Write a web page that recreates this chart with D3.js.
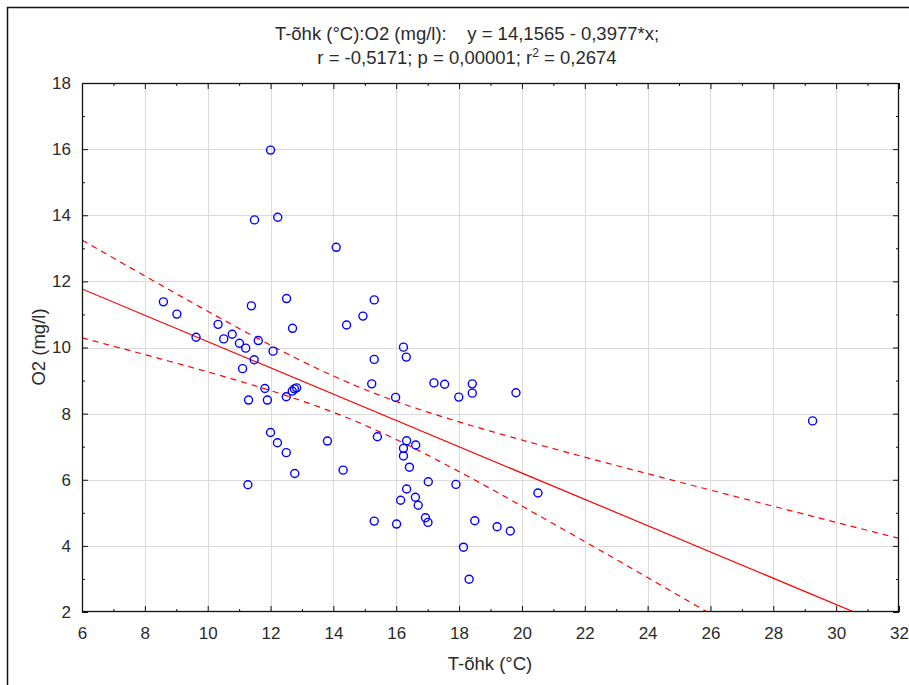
<!DOCTYPE html>
<html>
<head>
<meta charset="utf-8">
<script src="https://cdn.jsdelivr.net/npm/d3@7/dist/d3.min.js"></script>
<style>
  html, body { margin: 0; padding: 0; background: #fff; }
  svg { display: block; font-family: "Liberation Sans", Arial, sans-serif; }
</style>
</head>
<body>
<svg id="chart" width="909" height="685"></svg>
<script>
// Air temperature (°C) vs dissolved oxygen (mg/l) observations
const tempAir = [
  8.59, 9.02, 9.63, 10.33, 10.51, 10.78, 11.01, 11.21, 11.61, 12.08,
  12.70, 11.48, 11.11, 11.82, 11.30, 11.90, 12.50, 12.69, 12.76, 12.83,
  12.00, 12.22, 12.50, 12.77, 11.28, 13.81, 14.31, 12.00, 11.49, 12.23,
  14.09, 11.39, 12.51, 14.42, 14.94, 15.30, 16.23, 16.32, 15.30, 15.22,
  15.98, 17.20, 17.54, 18.42, 18.42, 17.99, 19.81, 15.40, 16.33, 16.62,
  16.23, 16.23, 16.42, 17.02, 17.90, 20.51, 16.33, 16.14, 16.61, 16.70,
  16.93, 17.01, 15.30, 16.01, 18.50, 19.21, 19.63, 18.14, 18.32, 29.25
];
const oxygen = [
  11.38, 11.01, 10.31, 10.70, 10.26, 10.40, 10.13, 9.98, 10.21, 9.89,
  10.58, 9.63, 9.36, 8.76, 8.41, 8.41, 8.51, 8.68, 8.75, 8.78,
  7.43, 7.12, 6.82, 6.19, 5.85, 7.17, 6.29, 15.97, 13.86, 13.94,
  13.03, 11.26, 11.48, 10.68, 10.95, 11.44, 10.01, 9.71, 9.64, 8.90,
  8.49, 8.93, 8.89, 8.90, 8.62, 8.50, 8.63, 7.30, 7.18, 7.05,
  6.95, 6.72, 6.38, 5.94, 5.86, 5.60, 5.72, 5.38, 5.47, 5.23,
  4.85, 4.71, 4.75, 4.66, 4.76, 4.58, 4.45, 3.96, 2.99, 7.78
];

// Fitted line as reported: y = a + b*x
const intercept = 14.1565;
const slope = -0.3977;

const xTicks = [6, 8, 10, 12, 14, 16, 18, 20, 22, 24, 26, 28, 30, 32];
const yTicks = [2, 4, 6, 8, 10, 12, 14, 16, 18];
const xMinor = d3.range(7, 32, 2);
const yMinor = d3.range(3, 18, 2);

const titleLine1 = "T-õhk (°C):O2 (mg/l):    y = 14,1565 - 0,3977*x;";
const xLabel = "T-õhk (°C)";
const yLabel = "O2 (mg/l)";

const svg = d3.select("#chart");
const plot = { left: 82, right: 899, top: 83, bottom: 612 };

const x = d3.scaleLinear().domain([6, 32]).range([plot.left, plot.right]);
const y = d3.scaleLinear().domain([2, 18]).range([plot.bottom, plot.top]);

svg.append("rect").attr("width", 909).attr("height", 685).attr("fill", "#fff");

// outer window frame (left and top edges)
svg.append("path")
  .attr("d", "M7.5,685V7.5H909")
  .attr("fill", "none").attr("stroke", "#111").attr("stroke-width", 1.5);

// clip for plotted lines
svg.append("defs").append("clipPath").attr("id", "plotClip")
  .append("rect")
  .attr("x", plot.left).attr("y", plot.top)
  .attr("width", plot.right - plot.left).attr("height", plot.bottom - plot.top);

// grid
const grid = svg.append("g").attr("stroke", "#dadada").attr("stroke-width", 1);
grid.selectAll("line.gx").data(xTicks.slice(1, -1)).join("line")
  .attr("x1", d => Math.round(x(d)) + 0.5).attr("x2", d => Math.round(x(d)) + 0.5)
  .attr("y1", plot.top).attr("y2", plot.bottom);
grid.selectAll("line.gy").data(yTicks.slice(1, -1)).join("line")
  .attr("y1", d => Math.round(y(d)) + 0.5).attr("y2", d => Math.round(y(d)) + 0.5)
  .attr("x1", plot.left).attr("x2", plot.right);

// 95% confidence band for the mean
const n = tempAir.length;
const xbar = d3.mean(tempAir);
const sxx = d3.sum(tempAir, v => (v - xbar) ** 2);
const sse = d3.sum(tempAir, (v, i) => (oxygen[i] - (intercept + slope * v)) ** 2);
const se = Math.sqrt(sse / (n - 2));
const tCrit = 1.995;
const bandX = d3.range(6, 32.001, 0.25);
const halfWidth = xv => tCrit * se * Math.sqrt(1 / n + (xv - xbar) ** 2 / sxx);

const lineGen = d3.line().x(d => x(d[0])).y(d => y(d[1]));
const lines = svg.append("g").attr("clip-path", "url(#plotClip)")
  .attr("fill", "none").attr("stroke", "#ff0000").attr("stroke-width", 1.2);

lines.append("path")
  .attr("d", lineGen([[6, intercept + slope * 6], [32, intercept + slope * 32]]));
lines.append("path")
  .attr("stroke-dasharray", "6,5")
  .attr("d", lineGen(bandX.map(v => [v, intercept + slope * v + halfWidth(v)])));
lines.append("path")
  .attr("stroke-dasharray", "6,5")
  .attr("d", lineGen(bandX.map(v => [v, intercept + slope * v - halfWidth(v)])));

// observations
svg.append("g").selectAll("circle").data(tempAir).join("circle")
  .attr("cx", d => x(d))
  .attr("cy", (d, i) => y(oxygen[i]))
  .attr("r", 4)
  .attr("fill", "none")
  .attr("stroke", "#0000ff")
  .attr("stroke-width", 1.4);

// axes
const textColor = "#2b2b2b";
function styleAxis(g) {
  g.select(".domain").remove();
  g.selectAll("line").attr("stroke", "#111");
  g.selectAll("text").attr("fill", textColor).attr("font-size", 17)
    .attr("font-family", "'Liberation Sans', Arial, sans-serif");
}
svg.append("g").attr("transform", `translate(0,${plot.bottom})`)
  .call(d3.axisBottom(x).tickValues(xTicks).tickSize(-6).tickPadding(15).tickFormat(d3.format("d")))
  .call(styleAxis);
svg.append("g").attr("transform", `translate(0,${plot.bottom})`)
  .call(d3.axisBottom(x).tickValues(xMinor).tickSize(-3).tickFormat(""))
  .call(styleAxis);
svg.append("g").attr("transform", `translate(0,${plot.top})`)
  .call(d3.axisTop(x).tickValues(xTicks).tickSize(-6).tickFormat(""))
  .call(styleAxis);
svg.append("g").attr("transform", `translate(0,${plot.top})`)
  .call(d3.axisTop(x).tickValues(xMinor).tickSize(-3).tickFormat(""))
  .call(styleAxis);
svg.append("g").attr("transform", `translate(${plot.left},0)`)
  .call(d3.axisLeft(y).tickValues(yTicks).tickSize(-6).tickPadding(11).tickFormat(d3.format("d")))
  .call(styleAxis);
svg.append("g").attr("transform", `translate(${plot.left},0)`)
  .call(d3.axisLeft(y).tickValues(yMinor).tickSize(-3).tickFormat(""))
  .call(styleAxis);
svg.append("g").attr("transform", `translate(${plot.right},0)`)
  .call(d3.axisRight(y).tickValues(yTicks).tickSize(-6).tickFormat(""))
  .call(styleAxis);
svg.append("g").attr("transform", `translate(${plot.right},0)`)
  .call(d3.axisRight(y).tickValues(yMinor).tickSize(-3).tickFormat(""))
  .call(styleAxis);

// plot frame
svg.append("rect")
  .attr("x", plot.left + 0.5).attr("y", plot.top + 0.5)
  .attr("width", plot.right - plot.left - 1).attr("height", plot.bottom - plot.top - 1)
  .attr("fill", "none").attr("stroke", "#111").attr("stroke-width", 1.3);

// titles
const title = svg.append("g").attr("fill", textColor).attr("font-size", 18.5).attr("text-anchor", "middle");
title.append("text").attr("x", 467).attr("y", 40)
  .style("white-space", "pre").text(titleLine1);
const t2 = title.append("text").attr("x", 467).attr("y", 64);
t2.append("tspan").text("r = -0,5171; p = 0,00001; r");
t2.append("tspan").attr("font-size", 12).attr("dy", -7).text("2");
t2.append("tspan").attr("dy", 7).text(" = 0,2674");

svg.append("text").attr("x", 490).attr("y", 670)
  .attr("text-anchor", "middle").attr("font-size", 18.5).attr("fill", textColor)
  .text(xLabel);
svg.append("text")
  .attr("transform", "translate(45,347) rotate(-90)")
  .attr("text-anchor", "middle").attr("font-size", 18.5).attr("fill", textColor)
  .text(yLabel);
</script>
</body>
</html>
